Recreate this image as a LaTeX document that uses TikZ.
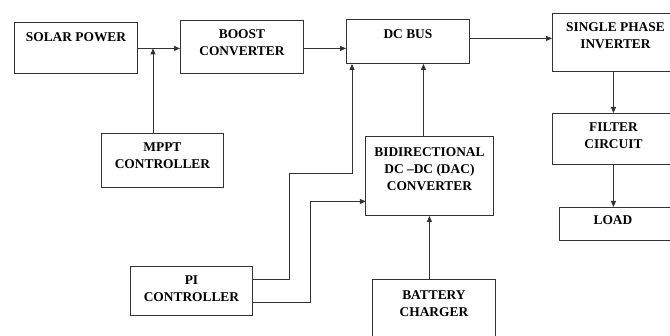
\documentclass[tikz,border=0pt]{standalone}
\usepackage{fontspec}
\setmainfont{Liberation Serif}
\usetikzlibrary{arrows.meta}
\newcommand\blkt[1]{\begin{tabular}[t]{@{}c@{}}#1\end{tabular}}
\begin{document}
\begin{tikzpicture}[x=1pt,y=-1pt,
  blockbox/.style={draw=black!80, line width=0.9pt, inner sep=0pt, anchor=north west,
    font=\fontsize{13.4}{17}\selectfont\bfseries},
  conn/.style={draw=black!80, line width=0.9pt},
  arr/.style={conn, -{Triangle[length=6pt,width=5pt]}}]
\useasboundingbox (0,0) rectangle (670,336);
\fill[white] (0,0) rectangle (670,336);
\clip (0,0) rectangle (670,336);
% blocks
\node[blockbox, minimum width=123pt, text height=19.5pt, text depth=31.5pt] (solar) at (14,22) {\blkt{SOLAR POWER}};
\node[blockbox, minimum width=123pt, text height=18.5pt, text depth=34.5pt] (boost) at (180,20) {\blkt{BOOST\\CONVERTER}};
\node[blockbox, minimum width=122pt, text height=18.5pt, text depth=35.5pt] (mppt) at (101,133) {\blkt{MPPT\\CONTROLLER}};
\node[blockbox, minimum width=123pt, text height=19.5pt, text depth=24.5pt] (dcbus) at (346,19) {\blkt{DC BUS}};
\node[blockbox, minimum width=126pt, text height=18.5pt, text depth=39.5pt] (inv) at (552,13) {\blkt{SINGLE PHASE\\INVERTER}};
\node[blockbox, minimum width=126pt, text height=18.5pt, text depth=32.5pt] (filter) at (552,113) {\blkt{FILTER\\CIRCUIT}\hspace*{4pt}};
\node[blockbox, minimum width=119pt, text height=17.5pt, text depth=15.5pt] (load) at (559,207) {\blkt{LOAD}\hspace*{12pt}};
\node[blockbox, minimum width=128pt, text height=20.5pt, text depth=58.5pt] (bidir) at (365,136) {\blkt{BIDIRECTIONAL\\DC –DC (DAC)\\CONVERTER}};
\node[blockbox, minimum width=122pt, text height=18.5pt, text depth=30.5pt] (pi) at (130,266) {\blkt{PI\\CONTROLLER}};
\node[blockbox, minimum width=123pt, text height=20.5pt, text depth=45.5pt] (batt) at (372,279) {\blkt{BATTERY\\CHARGER}};
% connectors
\draw[arr] ([yshift=-0.5pt]solar.east) -- ([yshift=-0.5pt]solar.east -| boost.west);
\draw[arr] ([xshift=52pt]mppt.north west) -- ([xshift=52pt,yshift=-0.5pt]mppt.north west |- solar.east);
\draw[arr] ([yshift=-1.5pt]boost.east) -- ([yshift=-1.5pt]boost.east -| dcbus.west);
\draw[arr] ([yshift=3pt]dcbus.east) -- ([yshift=3pt]dcbus.east -| inv.west);
\draw[arr] ([xshift=-2pt]inv.south) -- ([xshift=-2pt]inv.south |- filter.north);
\draw[arr] ([xshift=-2pt]filter.south) -- ([xshift=-2pt]filter.south |- load.north);
\draw[arr] ([xshift=-6pt]bidir.north) -- ([xshift=-6pt]bidir.north |- dcbus.south);
\draw[arr] ([xshift=-4.5pt]batt.north) -- ([xshift=-4.5pt]batt.north |- bidir.south);
\draw[arr] ([yshift=11.5pt]pi.east) -- ++(37,0) -- ++(0,-106) -| ([xshift=6pt]dcbus.south west);
\draw[arr] ([yshift=-11.5pt]pi.east) -- ++(58,0) -- ++(0,-101) -- ++(55,0);
\end{tikzpicture}
\end{document}
